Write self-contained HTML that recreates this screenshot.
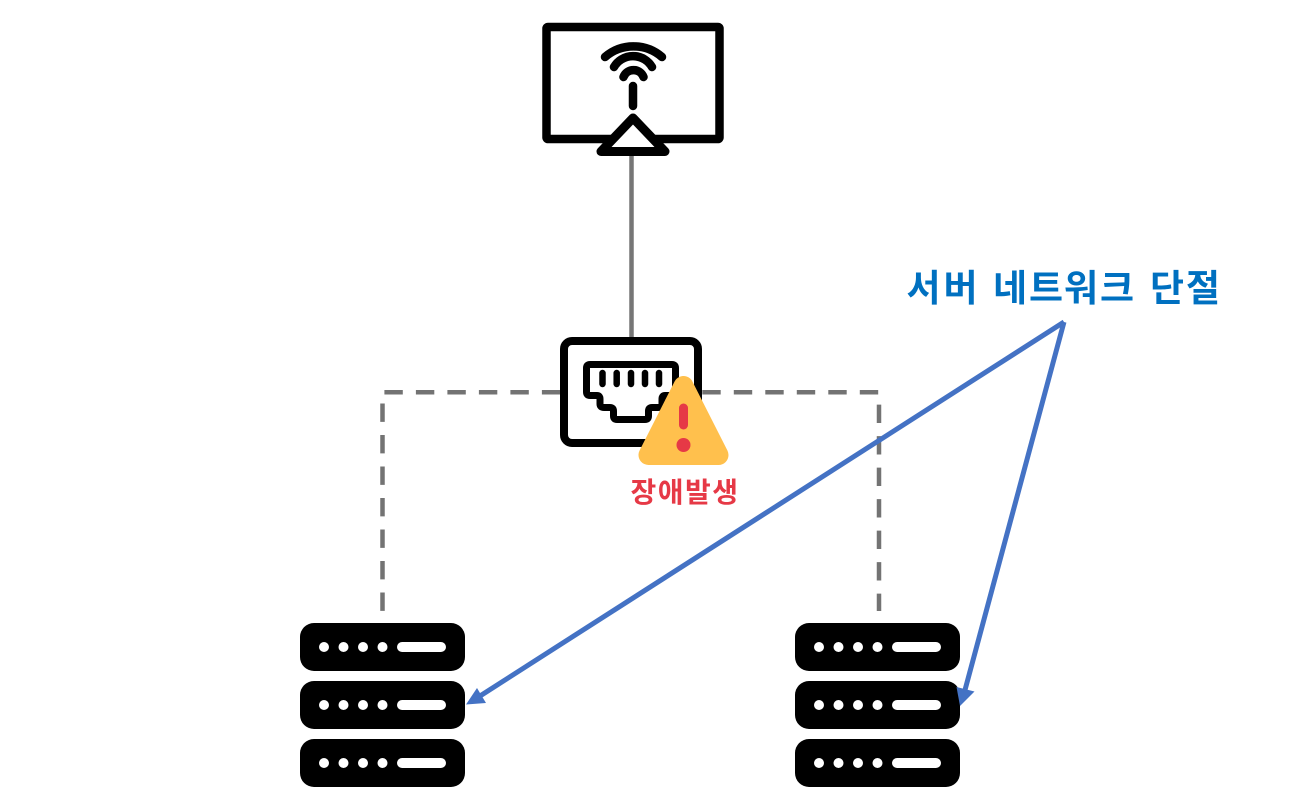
<!DOCTYPE html>
<html lang="ko">
<head>
<meta charset="utf-8">
<title>서버 네트워크 단절</title>
<style>
html,body{margin:0;padding:0;background:#fff;width:1298px;height:801px;overflow:hidden}
svg{display:block}
text{font-family:"Liberation Sans","Noto Sans CJK KR",sans-serif;font-weight:700}
</style>
</head>
<body>
<svg width="1298" height="801" viewBox="0 0 1298 801" xmlns="http://www.w3.org/2000/svg">
<rect width="1298" height="801" fill="#fff"/>

<!-- connectors -->
<line x1="631.5" y1="152" x2="631.5" y2="338" stroke="#767676" stroke-width="4.5"/>
<path d="M560.3 392.3H382.5V611" fill="none" stroke="#737373" stroke-width="4.5" stroke-dasharray="18.4 13.1"/>
<path d="M702.3 392.3H879V611" fill="none" stroke="#737373" stroke-width="4.5" stroke-dasharray="18.4 13.1"/>

<!-- monitor -->
<rect x="546.5" y="27" width="173" height="112" rx="1.5" fill="none" stroke="#000" stroke-width="8.5" stroke-linejoin="round"/>
<path d="M601 151.5H665L633 118Z" fill="#fff" stroke="#000" stroke-width="9" stroke-linejoin="round"/>
<g fill="none" stroke="#000" stroke-width="8.5" stroke-linecap="round">
<path d="M605 57A43.600 43.600 0 0 1 662 57"/>
<path d="M614 67A22 22 0 0 1 652 67"/>
<path d="M623.500 77A10.700 10.700 0 0 1 643.500 77"/>
<path d="M633 86V106"/>
</g>

<!-- switch -->
<rect x="564" y="341" width="134" height="102" rx="8" fill="#fff" stroke="#000" stroke-width="8"/>
<path d="M590 364.500H672Q675.500 364.500 675.500 368V392Q675.500 395.500 672 395.500H665Q662 395.500 662 399V404Q662 407.500 658 407.500H652Q648.500 407.500 648.500 411V416Q648.500 419.500 645 419.500H617Q613.500 419.500 613.500 416V411Q613.500 407.500 610 407.500H604Q600 407.500 600 404V399Q600 395.500 597 395.500H590Q586.500 395.500 586.500 392V368Q586.500 364.500 590 364.500Z" fill="none" stroke="#000" stroke-width="7" stroke-linejoin="round"/>
<g stroke="#000" stroke-width="6.500" stroke-linecap="round">
<line x1="602.500" y1="373" x2="602.500" y2="384"/>
<line x1="616.700" y1="373" x2="616.700" y2="384"/>
<line x1="631" y1="373" x2="631" y2="384"/>
<line x1="645" y1="373" x2="645" y2="384"/>
<line x1="659" y1="373" x2="659" y2="384"/>
</g>

<!-- warning -->
<path d="M683.500 386L648.500 455H718.500Z" fill="#ffc04d" stroke="#ffc04d" stroke-width="20" stroke-linejoin="round"/>
<line x1="683.500" y1="408" x2="683.500" y2="425" stroke="#e63946" stroke-width="9" stroke-linecap="round"/>
<circle cx="683.500" cy="445" r="7" fill="#e63946"/>
<text x="685" y="502" font-size="28" letter-spacing="1.500" fill="#e63946" text-anchor="middle">장애발생</text>

<!-- left server -->
<g>
<rect x="300" y="623" width="165" height="48" rx="14" fill="#000"/>
<rect x="300" y="681" width="165" height="48" rx="14" fill="#000"/>
<rect x="300" y="739" width="165" height="48" rx="14" fill="#000"/>
<g fill="#fff">
<circle cx="324" cy="647" r="5"/><circle cx="343.500" cy="647" r="5"/><circle cx="363" cy="647" r="5"/><circle cx="382.500" cy="647" r="5"/><rect x="397" y="642" width="49" height="10" rx="5"/>
<circle cx="324" cy="705" r="5"/><circle cx="343.500" cy="705" r="5"/><circle cx="363" cy="705" r="5"/><circle cx="382.500" cy="705" r="5"/><rect x="397" y="700" width="49" height="10" rx="5"/>
<circle cx="324" cy="763" r="5"/><circle cx="343.500" cy="763" r="5"/><circle cx="363" cy="763" r="5"/><circle cx="382.500" cy="763" r="5"/><rect x="397" y="758" width="49" height="10" rx="5"/>
</g>
</g>

<!-- right server -->
<g transform="translate(495 0)">
<rect x="300" y="623" width="165" height="48" rx="14" fill="#000"/>
<rect x="300" y="681" width="165" height="48" rx="14" fill="#000"/>
<rect x="300" y="739" width="165" height="48" rx="14" fill="#000"/>
<g fill="#fff">
<circle cx="324" cy="647" r="5"/><circle cx="343.500" cy="647" r="5"/><circle cx="363" cy="647" r="5"/><circle cx="382.500" cy="647" r="5"/><rect x="397" y="642" width="49" height="10" rx="5"/>
<circle cx="324" cy="705" r="5"/><circle cx="343.500" cy="705" r="5"/><circle cx="363" cy="705" r="5"/><circle cx="382.500" cy="705" r="5"/><rect x="397" y="700" width="49" height="10" rx="5"/>
<circle cx="324" cy="763" r="5"/><circle cx="343.500" cy="763" r="5"/><circle cx="363" cy="763" r="5"/><circle cx="382.500" cy="763" r="5"/><rect x="397" y="758" width="49" height="10" rx="5"/>
</g>
</g>

<!-- blue arrows -->
<g stroke="#4472c4" stroke-width="5" fill="none">
<line x1="480" y1="696" x2="1064" y2="322"/>
<line x1="965" y1="690" x2="1064" y2="322"/>
</g>
<path d="M466 704.500L486 703L477 688Z" fill="#4472c4"/>
<path d="M960 706L974.500 691.500L956.500 687Z" fill="#4472c4"/>

<text y="301" font-size="37" fill="#0070c0" x="906.500 943.500 981 993 1029 1064 1100 1138 1150 1186">서버 네트워크 단절</text>
</svg>
</body>
</html>
